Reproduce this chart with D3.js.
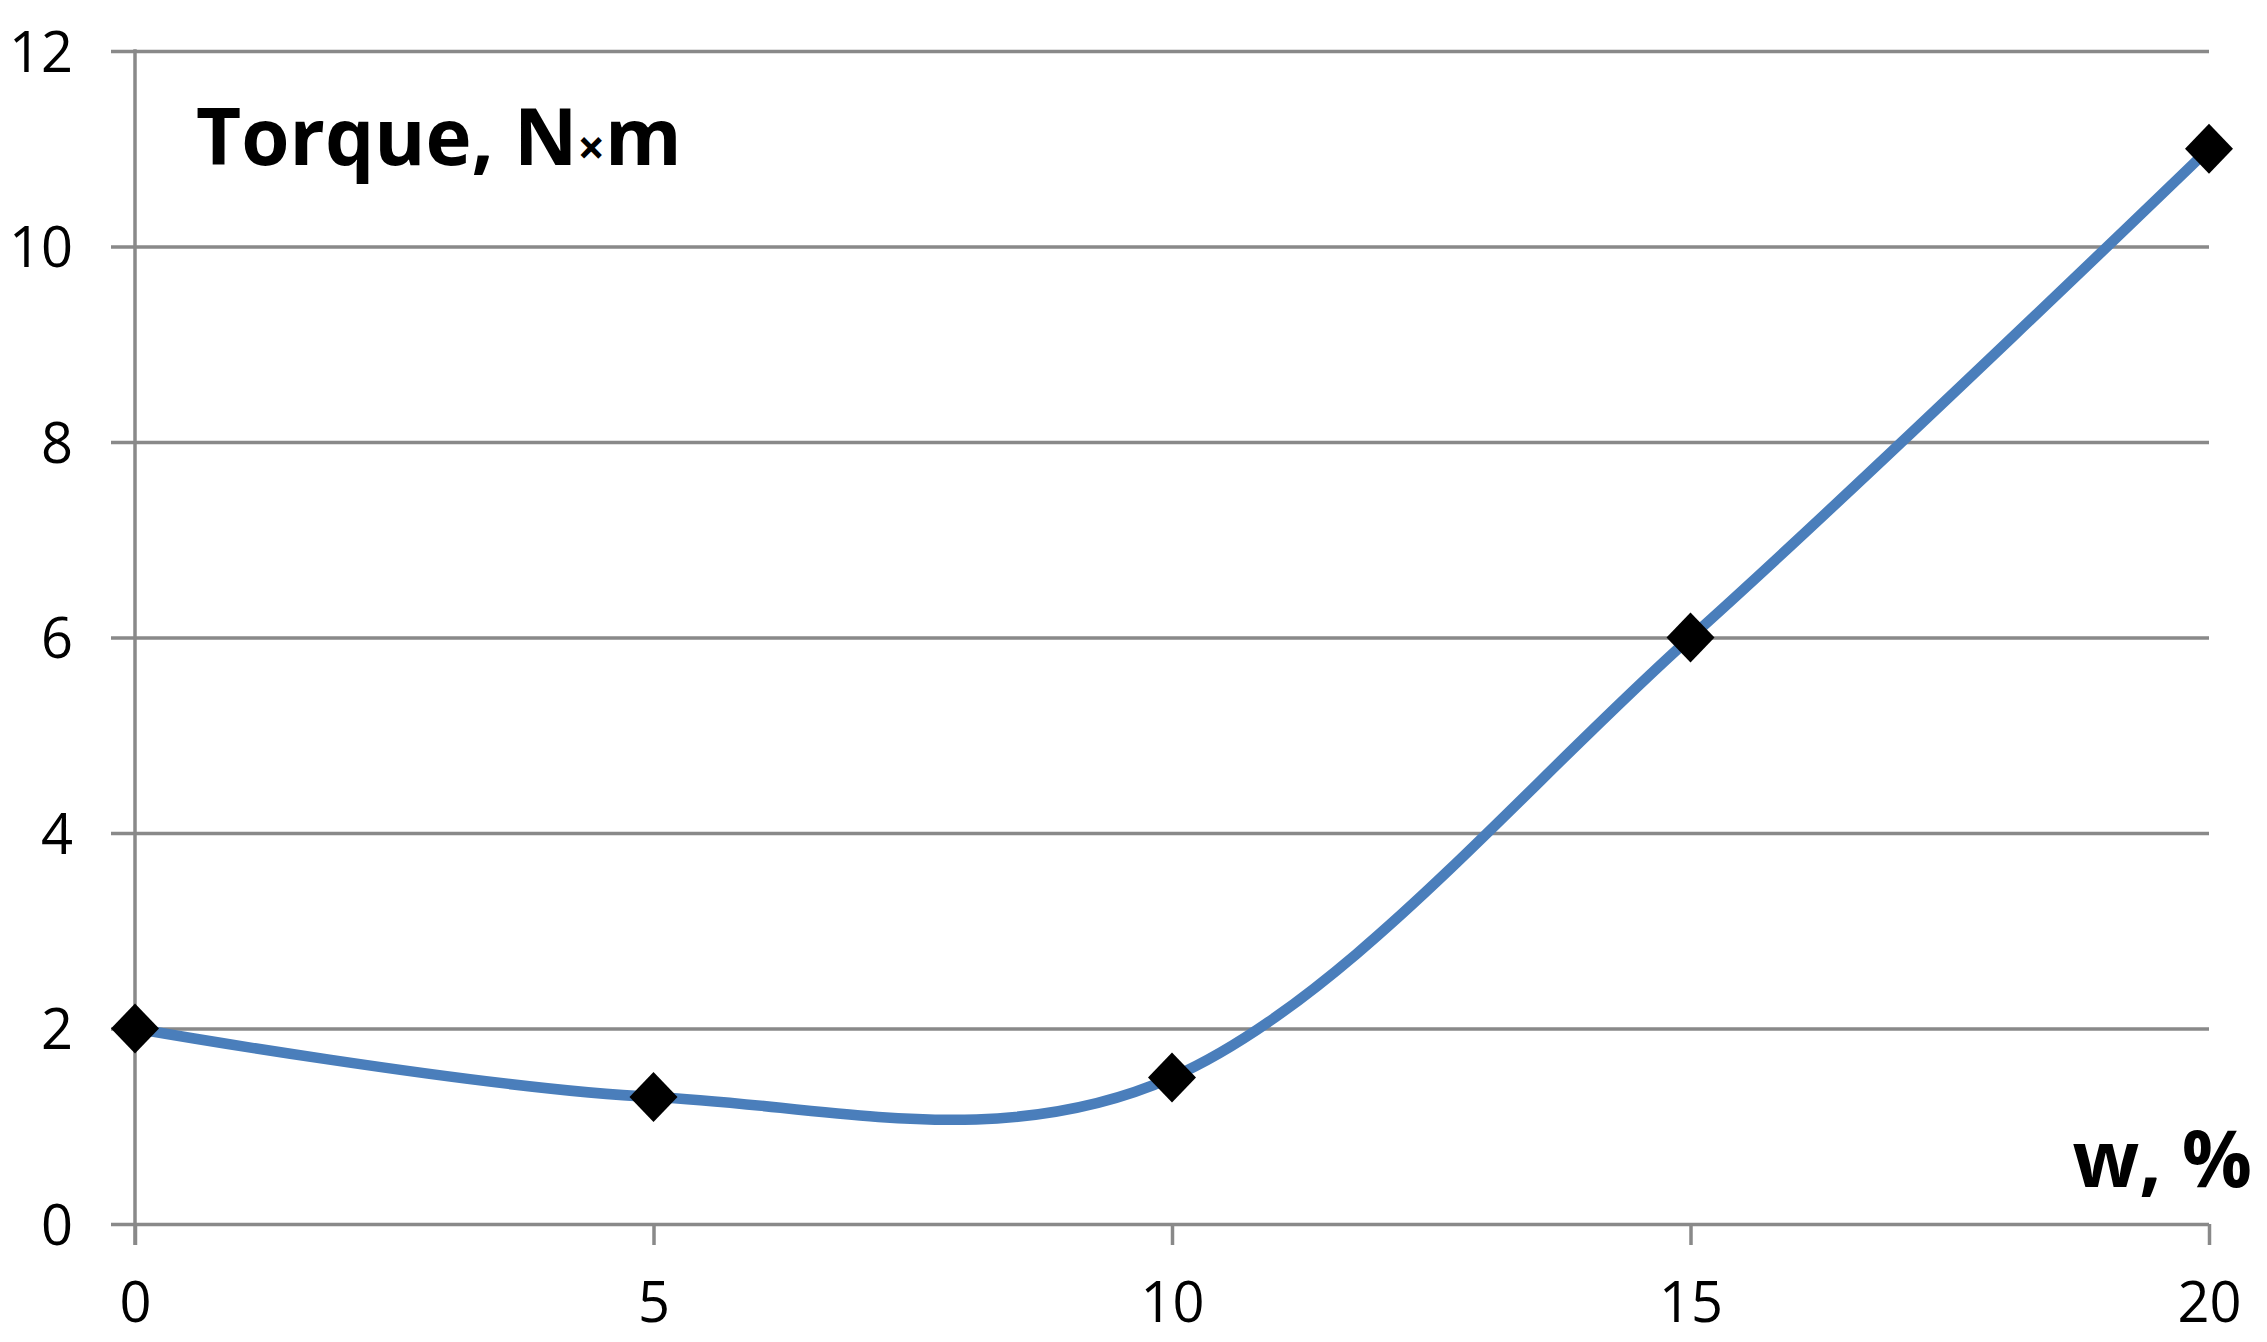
<!DOCTYPE html>
<html>
<head>
<meta charset="utf-8">
<script src="https://cdn.jsdelivr.net/npm/d3@7"></script>
<style>
body { margin: 0; background: #fff; }
svg { display: block; }
</style>
</head>
<body>
<div id="chart"></div>
<script>
// data
var moisture = [0, 5, 10, 15, 20]
var torque = [2, 1.3, 1.5, 6, 11]
var xTicks = [0, 5, 10, 15, 20]
var yTicks = [0, 2, 4, 6, 8, 10, 12]

var width = 2267,
height = 1342
var margin = { top: 51, right: 58, bottom: 118, left: 135 }
var plotW = width - margin.left - margin.right,
plotH = height - margin.top - margin.bottom

var gridColor = "#898989"
var font = "'Open Sans', 'Liberation Sans', sans-serif"

var svg = d3.select("#chart").append("svg")
.attr("width", width)
.attr("height", height)

svg.append("rect").attr("width", width).attr("height", height).attr("fill", "#fff")

var x = d3.scaleLinear().domain([0, 20]).range([margin.left, margin.left + plotW])
var y = d3.scaleLinear().domain([0, 12]).range([margin.top + plotH, margin.top])

// y axis: gridlines reaching out to the left as ticks
var yAxis = svg.append("g")
.attr("transform", "translate(" + (margin.left + plotW) + ",0)")
.call(d3.axisLeft(y).tickValues(yTicks).tickSize(plotW + 24).tickPadding(38))
yAxis.select(".domain").remove()
yAxis.selectAll(".tick line").attr("stroke", gridColor).attr("stroke-width", 3.5)
yAxis.selectAll(".tick text")
.attr("font-family", font)
.attr("font-size", 56)
.attr("fill", "#000")
.attr("dy", "0.36em")

// x axis ticks and labels
var xAxis = svg.append("g")
.attr("transform", "translate(0," + y(0) + ")")
.call(d3.axisBottom(x).tickValues(xTicks).tickSize(21).tickPadding(37))
xAxis.select(".domain").remove()
xAxis.selectAll(".tick line").attr("stroke", gridColor).attr("stroke-width", 3.5)
xAxis.selectAll(".tick text")
.attr("font-family", font)
.attr("font-size", 56)
.attr("fill", "#000")

// vertical axis line
svg.append("line")
.attr("x1", x(0)).attr("x2", x(0))
.attr("y1", y(12) - 1.75).attr("y2", y(0) + 21)
.attr("stroke", gridColor)
.attr("stroke-width", 3.5)

var points = moisture.map(function (d, i) { return [x(d), y(torque[i])] })

var line = d3.line().curve(d3.curveCatmullRom.alpha(0))

svg.append("path")
.attr("d", line(points))
.attr("fill", "none")
.attr("stroke", "#4a7ebb")
.attr("stroke-width", 10.5)
.attr("stroke-linecap", "round")

var rx = 24, ry = 25
svg.selectAll(".marker")
.data(points)
.join("path")
.attr("class", "marker")
.attr("d", function (d) {
    return "M" + d[0] + "," + (d[1] - ry) + "L" + (d[0] + rx) + "," + d[1] +
    "L" + d[0] + "," + (d[1] + ry) + "L" + (d[0] - rx) + "," + d[1] + "Z"
})
.attr("fill", "#000")

// titles
var title = svg.append("text")
.attr("x", 196)
.attr("y", 165)
.attr("font-family", font)
.attr("font-weight", "bold")
.attr("font-size", 78)
.attr("fill", "#000")
title.append("tspan").text("Torque, N")
title.append("tspan").attr("font-size", 48).text("×")
title.append("tspan").text("m")

svg.append("text")
.attr("x", 2252)
.attr("y", 1187)
.attr("text-anchor", "end")
.attr("font-family", font)
.attr("font-weight", "bold")
.attr("font-size", 78)
.attr("fill", "#000")
.text("w, %")
</script>
</body>
</html>
